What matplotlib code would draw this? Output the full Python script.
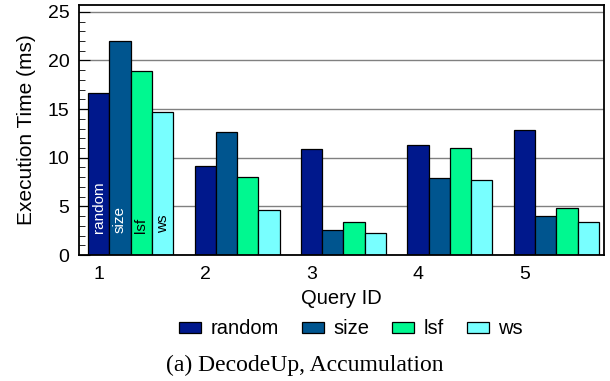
import matplotlib
matplotlib.use("Agg")
import matplotlib.pyplot as plt
import numpy as np
from matplotlib.ticker import MultipleLocator

plt.rcParams['font.family'] = ['Liberation Sans', 'DejaVu Sans']

queries = ["1", "2", "3", "4", "5"]
series = ["random", "size", "lsf", "ws"]
random_vals = [16.7, 9.2, 10.9, 11.3, 12.9]
size_vals = [22.0, 12.6, 2.6, 7.9, 4.0]
lsf_vals = [18.9, 8.0, 3.4, 11.0, 4.8]
ws_vals = [14.7, 4.6, 2.3, 7.7, 3.4]
colors = ["#00188c", "#00558f", "#00f890", "#78ffff"]
label_colors = ["white", "white", "black", "black"]
caption = "(a) DecodeUp, Accumulation"

values = [random_vals, size_vals, lsf_vals, ws_vals]

fig = plt.figure(figsize=(6.1, 3.81), dpi=100)
ax = fig.add_axes([0.1295, 0.3307, 0.8605, 0.6562])

group_x = np.arange(len(queries)) * 5
for j, (name, vals, c) in enumerate(zip(series, values, colors)):
    ax.bar(group_x + j, vals, width=1.0, color=c, edgecolor="black",
           linewidth=0.9, label=name, zorder=3)
    ax.text(group_x[0] + j, 2.3, name, rotation=90, ha="center", va="bottom",
            color=label_colors[j], fontsize=11, zorder=4)

ax.set_xlim(-0.93, 23.74)
ax.set_ylim(0, 25.7)
ax.set_xticks(group_x)
ax.set_xticklabels(queries)
ax.yaxis.set_major_locator(MultipleLocator(5))
ax.yaxis.set_minor_locator(MultipleLocator(1))
ax.tick_params(axis="y", which="major", direction="in", length=8, width=0.8,
               labelsize=14, pad=7)
ax.tick_params(axis="y", which="minor", direction="in", length=4, width=0.6)
ax.tick_params(axis="x", length=0, labelsize=14, pad=8)
ax.grid(axis="y", which="major", color="#808080", linewidth=1.0, zorder=0)
for s in ax.spines.values():
    s.set_linewidth(1.3)
    s.set_zorder(5)

ax.set_ylabel("Execution Time (ms)", fontsize=15, labelpad=8)
ax.set_xlabel("Query ID", fontsize=14.5, labelpad=4)

fig.legend(loc="center", bbox_to_anchor=(351 / 610, 1 - 329 / 381), ncol=4,
           frameon=False, fontsize=14.5, handlelength=1.1, handleheight=0.45,
           handletextpad=0.45, columnspacing=1.15)

fig.text(0.5, 1 - 365 / 381, caption, ha="center", va="center",
         fontsize=17, family="Liberation Serif")

fig.savefig("out.png", dpi=100)
